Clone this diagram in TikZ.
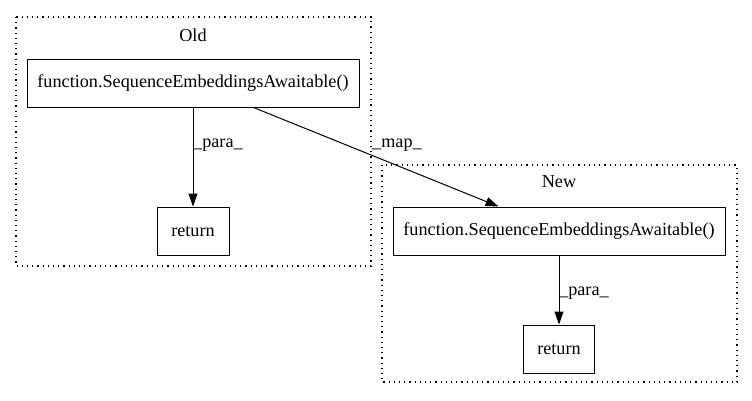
\documentclass[tikz,border=0pt]{standalone}
\usepackage{fontspec}
\setmainfont{Liberation Serif}
\usetikzlibrary{arrows.meta,positioning}
\tikzset{
  fnbox/.style={draw,line width=1pt,minimum height=48pt,inner sep=0pt,font=\fontsize{18.2}{21}\selectfont},
  lbl/.style={inner sep=0pt,font=\fontsize{18.2}{21}\selectfont},
  flow/.style={line width=1pt,-{Triangle[length=13pt,width=9pt]}},
  cluster/.style={line width=1.2pt,dash pattern=on 1.2pt off 4pt}
}

\begin{document}
\begin{tikzpicture}[x=1pt,y=-1pt]
  \useasboundingbox (0,0) rectangle (752,400);
  \draw[cluster] (16,17) rectangle (371,266);
  \draw[cluster] (382,165) rectangle (737,382);
  \node[lbl] (oldlbl) at (193,35) {Old};
  \node[lbl] (newlbl) at (559,182) {New};
  \node[fnbox,minimum width=332pt] (oldfn) at (193,83) {function.SequenceEmbeddingsAwaitable()};
  \node[fnbox,minimum width=72pt] (oldret) at (193,231) {return};
  \node[fnbox,minimum width=332pt] (newfn) at (559,231) {function.SequenceEmbeddingsAwaitable()};
  \node[fnbox,minimum width=71pt] (newret) at (559,349) {return};
  \draw[flow] (oldfn) -- (oldret);
  \draw[flow] (newfn) -- (newret);
  \draw[flow] (oldfn) -- (newfn);
  \node[lbl,anchor=west] (oldpara) at (193,145) {\_para\_};
  \node[lbl,anchor=west] (newpara) at (559,293) {\_para\_};
  \node[lbl,anchor=west] (maplbl) at (372,145) {\_map\_};
\end{tikzpicture}
\end{document}
